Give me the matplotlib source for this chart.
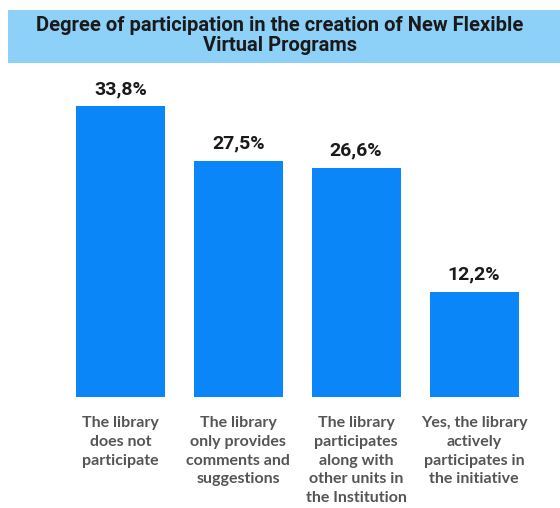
import matplotlib
matplotlib.use("Agg")
import matplotlib.pyplot as plt
from matplotlib.patches import Rectangle

# categories and shares (%)
categories = [
    "The library\ndoes not\nparticipate",
    "The library\nonly provides\ncomments and\nsuggestions",
    "The library\nparticipates\nalong with\nother units in\nthe Institution",
    "Yes, the library\nactively\nparticipates in\nthe initiative",
]
shares = [33.8, 27.5, 26.6, 12.2]
value_labels = ["33,8%", "27,5%", "26,6%", "12,2%"]

title = "Degree of participation in the creation of New Flexible\nVirtual Programs"

bar_color = "#0A86F8"
band_color = "#8DD0F8"

fig = plt.figure(figsize=(5.6, 5.08), dpi=100)
fig.patch.set_facecolor("white")

# title band across the top
fig.patches.append(Rectangle((8 / 560, 1 - 63 / 508), 1 - 8 / 560, 53 / 508,
                             transform=fig.transFigure, facecolor=band_color,
                             edgecolor="none", zorder=0))
fig.text(0.5, 1 - 35.5 / 508, title, ha="center", va="center",
         fontsize=14.5, fontweight="bold", color="#1a1a1a",
         family="Roboto", linespacing=1.12)

ax = fig.add_axes([61.5 / 560, 111 / 508, 471.5 / 560, 344 / 508])
x = range(len(shares))
bars = ax.bar(x, shares, width=0.755, color=bar_color)
ax.set_xlim(-0.5, 3.5)
ax.set_ylim(0, 40)
ax.axis("off")

for b, lab in zip(bars, value_labels):
    ax.annotate(lab, (b.get_x() + b.get_width() / 2, b.get_height()),
                xytext=(0, 6), textcoords="offset points",
                ha="center", va="bottom", fontsize=14, fontweight="bold",
                color="#1a1a1a", family="Roboto")

for i, cat in enumerate(categories):
    ax.annotate(cat, (i, 0), xytext=(0, -14), textcoords="offset points",
                ha="center", va="top", fontsize=11.5, fontweight="bold",
                color="#555555", family="Lato", linespacing=1.42)

fig.savefig("out.png", dpi=100)
